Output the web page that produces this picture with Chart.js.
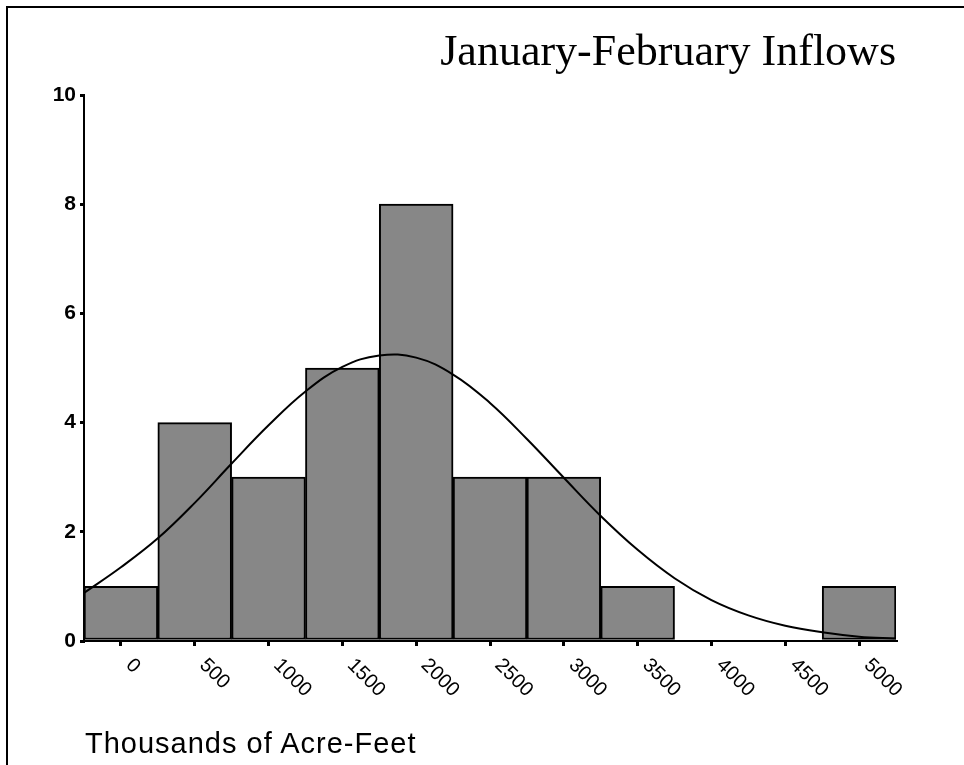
<!DOCTYPE html>
<html>
<head>
<meta charset="utf-8">
<script src="https://cdn.jsdelivr.net/npm/chart.js@4.4.1/dist/chart.umd.min.js"></script>
<style>
  html, body { margin: 0; padding: 0; background: #fff; }
  #wrap { position: relative; width: 964px; height: 765px; overflow: hidden; background: #fff; }
  #frame { position: absolute; left: 6px; top: 6px; width: 970px; height: 770px; border-left: 2px solid #000; border-top: 2px solid #000; }
  #c { position: absolute; left: 0; top: 0; }
  #title { position: absolute; right: 68px; top: 29px; font-family: "Liberation Serif", "Times New Roman", serif; font-size: 44px; color: #000; white-space: nowrap; line-height: 1; }
  #xtitle { position: absolute; left: 85px; top: 729px; font-family: "Liberation Sans", Arial, sans-serif; font-size: 29px; letter-spacing: 1px; color: #000; white-space: nowrap; line-height: 1; }
</style>
</head>
<body>
<div id="wrap">
  <div id="frame"></div>
  <canvas id="c" width="964" height="765"></canvas>
  <div id="title">January-February Inflows</div>
  <div id="xtitle">Thousands of Acre-Feet</div>
</div>
<script>
// Histogram bins (bin centres, thousands of acre-feet) and counts
const binCenters = [0, 500, 1000, 1500, 2000, 2500, 3000, 3500, 4000, 4500, 5000];
const binCounts  = [1, 4, 3, 5, 8, 3, 3, 1, 0, 0, 1];

// Fitted curve
const curveX = [-250, 0, 250, 500, 750, 1000, 1250, 1500, 1750, 2000, 2250, 2500, 2750, 3000, 3250, 3500, 3750, 4000, 4250, 4500, 4750, 5000, 5250];
const curveY = [0.88, 1.35, 1.88, 2.53, 3.25, 3.95, 4.57, 5.02, 5.23, 5.19, 4.88, 4.36, 3.70, 2.99, 2.29, 1.67, 1.15, 0.75, 0.47, 0.28, 0.16, 0.08, 0.045];

// Axis ticks
const xTickValues = [0, 500, 1000, 1500, 2000, 2500, 3000, 3500, 4000, 4500, 5000];
const yTickValues = [0, 2, 4, 6, 8, 10];

const barData = binCenters.map((x, i) => ({ x: x, y: binCounts[i] }));
const curveData = curveX.map((x, i) => ({ x: x, y: curveY[i] }));

const rotatedXLabels = {
  id: 'rotatedXLabels',
  afterDraw(chart) {
    const xs = chart.scales.x;
    const ctx = chart.ctx;
    ctx.save();
    ctx.font = '20px "Liberation Sans", Arial, sans-serif';
    ctx.fillStyle = '#000';
    ctx.textAlign = 'left';
    ctx.textBaseline = 'middle';
    xTickValues.forEach(v => {
      const px = xs.getPixelForValue(v);
      ctx.save();
      ctx.translate(px + 8, xs.top + 21);
      ctx.rotate(Math.PI / 4);
      ctx.fillText(String(v), 0, 0);
      ctx.restore();
    });
    ctx.restore();
  }
};

new Chart(document.getElementById('c'), {
  type: 'bar',
  data: {
    datasets: [
      {
        type: 'line',
        data: curveData,
        borderColor: '#000',
        borderWidth: 2,
        pointRadius: 0,
        tension: 0.4,
        fill: false,
        order: 0
      },
      {
        type: 'bar',
        data: barData,
        backgroundColor: '#878787',
        borderColor: '#000',
        borderWidth: 2,
        borderSkipped: false,
        barPercentage: 1.0,
        categoryPercentage: 1.0,
        order: 1
      }
    ]
  },
  plugins: [rotatedXLabels],
  options: {
    responsive: false,
    animation: false,
    events: [],
    layout: { padding: { left: 0, right: 68, top: 95, bottom: 0 } },
    plugins: { legend: { display: false }, tooltip: { enabled: false }, title: { display: false } },
    scales: {
      x: {
        type: 'linear',
        min: -250,
        max: 5250,
        offset: false,
        afterBuildTicks(scale) { scale.ticks = xTickValues.map(v => ({ value: v })); },
        afterFit(scale) { scale.height = 124; },
        ticks: { callback: () => '', maxRotation: 0, minRotation: 0 },
        grid: { display: true, offset: false, drawOnChartArea: false, drawTicks: true, tickLength: 5, color: '#000', lineWidth: 3 },
        border: { display: true, color: '#000', width: 2 }
      },
      y: {
        min: 0,
        max: 10,
        afterBuildTicks(scale) { scale.ticks = yTickValues.map(v => ({ value: v })); },
        afterFit(scale) { scale.width = 84; },
        ticks: { color: '#000', padding: 4, font: { family: '"Liberation Sans", Arial, sans-serif', size: 21, weight: 'bold' } },
        grid: { display: true, drawOnChartArea: false, drawTicks: true, tickLength: 4, color: '#000', lineWidth: 3 },
        border: { display: true, color: '#000', width: 2 }
      }
    }
  }
});
</script>
</body>
</html>
